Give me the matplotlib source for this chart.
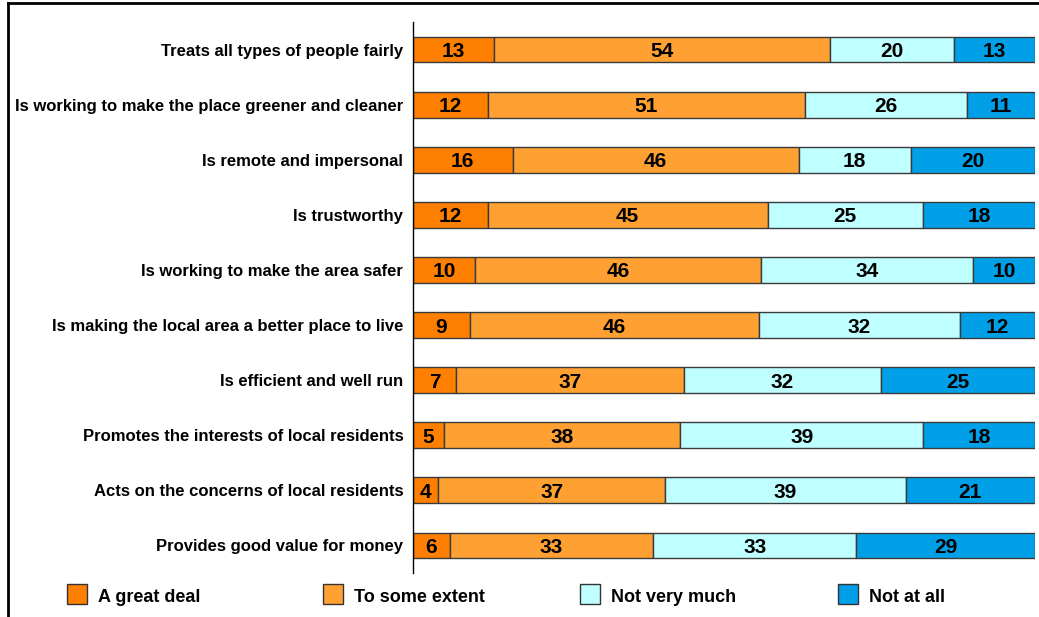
import matplotlib
matplotlib.use("Agg")
import matplotlib.pyplot as plt
import numpy as np
from matplotlib.patches import Rectangle
from matplotlib.lines import Line2D

plt.rcParams['font.family'] = ['Liberation Sans', 'DejaVu Sans']

categories = [
    "Treats all types of people fairly",
    "Is working to make the place greener and cleaner",
    "Is remote and impersonal",
    "Is trustworthy",
    "Is working to make the area safer",
    "Is making the local area a better place to live",
    "Is efficient and well run",
    "Promotes the interests of local residents",
    "Acts on the concerns of local residents",
    "Provides good value for money",
]
series_names = ["A great deal", "To some extent", "Not very much", "Not at all"]
great_deal = [13, 12, 16, 12, 10, 9, 7, 5, 4, 6]
some_extent = [54, 51, 46, 45, 46, 46, 37, 38, 37, 33]
not_very_much = [20, 26, 18, 25, 34, 32, 32, 39, 39, 33]
not_at_all = [13, 11, 20, 18, 10, 12, 25, 18, 21, 29]
colors = ["#FF8000", "#FFA033", "#C0FFFF", "#00A0E8"]

W, H = 1039, 617
fig = plt.figure(figsize=(W / 100, H / 100), dpi=100)
ax = fig.add_axes([413 / W, 1 - 573 / H, (1035 - 413) / W, (573 - 22) / H])

data = np.array([great_deal, some_extent, not_very_much, not_at_all], dtype=float)
totals = data.sum(axis=0)
shares = data / totals * 100
y = np.arange(len(categories))
left = np.zeros(len(categories))
for i in range(4):
    bars = ax.barh(y, shares[i], left=left, height=0.47, color=colors[i],
                   edgecolor="#3a3a3a", linewidth=1.0)
    for j, b in enumerate(bars):
        ax.text(left[j] + shares[i][j] / 2, y[j], f"{int(data[i][j])}",
                ha="center", va="center_baseline", fontsize=15, fontweight="bold",
                color="black")
    left += shares[i]

ax.set_xlim(0, 100)
ax.set_ylim(len(categories) - 0.5, -0.5)
ax.set_yticks(y)
ax.set_yticklabels(categories, fontsize=12, fontweight="bold")
ax.tick_params(axis="y", length=0, pad=7)
ax.set_xticks([])
for s in ["top", "right", "bottom"]:
    ax.spines[s].set_visible(False)
ax.spines["left"].set_linewidth(1.0)

# legend
leg_x = [67, 323, 580, 838]
for i, name in enumerate(series_names):
    x0 = leg_x[i]
    fig.add_artist(Rectangle((x0 / W, 1 - 604 / H), 20 / W, 20 / H,
                             transform=fig.transFigure, facecolor=colors[i],
                             edgecolor="#333333", linewidth=1.0))
    fig.text((x0 + 31) / W, 1 - 596 / H, name, fontsize=13, fontweight="bold",
             ha="left", va="center_baseline")

# outer frame (top and left visible)
fig.add_artist(Line2D([7.5 / W, 1.0], [1 - 2.5 / H, 1 - 2.5 / H],
                      transform=fig.transFigure, color="black", linewidth=2))
fig.add_artist(Line2D([7.5 / W, 7.5 / W], [0, 1 - 2.5 / H],
                      transform=fig.transFigure, color="black", linewidth=2))

fig.savefig("out.png", dpi=100)
